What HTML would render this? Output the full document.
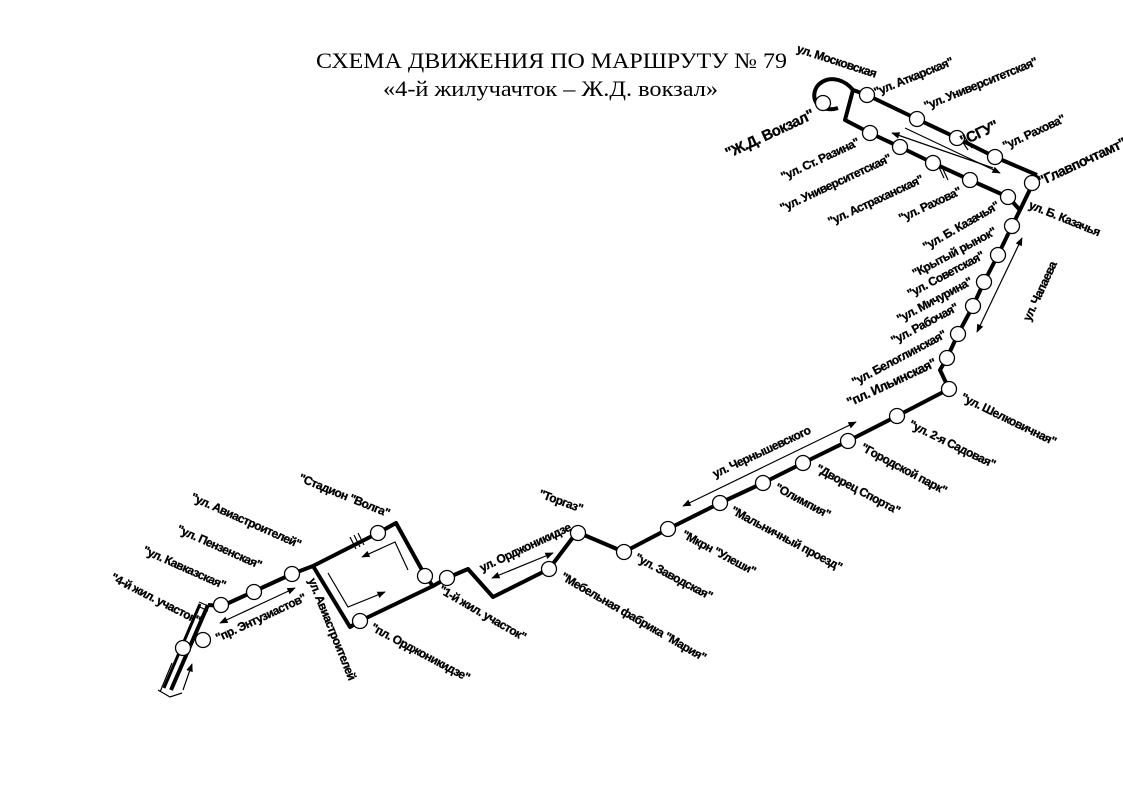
<!DOCTYPE html>
<html><head><meta charset="utf-8"><style>
html,body{margin:0;padding:0;background:#fff;}
svg{display:block;}
.l{font-family:"Liberation Sans",sans-serif;font-weight:bold;font-size:12px;letter-spacing:-0.6px;fill:#000;stroke:#000;stroke-width:0.3;}
.t{font-family:"Liberation Serif",serif;font-size:22px;fill:#000;}
</style></head><body>
<svg width="1123" height="793" viewBox="0 0 1123 793" xmlns="http://www.w3.org/2000/svg">
<defs>
<marker id="a" viewBox="0 0 10 10" refX="9" refY="5" markerWidth="7" markerHeight="7" orient="auto-start-reverse"><path d="M0,1 L10,5 L0,9 z" fill="#000"/></marker>
</defs>
<text class="t" x="316" y="68" textLength="471" lengthAdjust="spacingAndGlyphs">СХЕМА ДВИЖЕНИЯ ПО МАРШРУТУ № 79</text>
<text class="t" x="383" y="96" textLength="335" lengthAdjust="spacingAndGlyphs">«4-й жилучачток – Ж.Д. вокзал»</text>

<g fill="none" stroke="#000" stroke-width="4" stroke-linejoin="round">
<path d="M208,605 L171,690" />
<path d="M200,604 L164,688" stroke-width="3"/>
<path d="M208,605 L222,606 L292,574 L313,566 L378,533 L396,523 L422,570 L425,576"/>
<path d="M313,566 L350,627 L360,621 L433,586 L447,578 L468,569 L493,597 L549,569 L577,532 L624,552 L668,529 L720,503 L763,483 L803,463 L848,441 L897,416 L949,389 L940,370 L947,358 L958,334 L973,306 L984,282 L998,255 L1012,226 L1020,210 L1037,175"/>
<path d="M425,576 L433,586"/>
<path d="M1037,175 L995,157 L957,138 L917,119 L867,95 L853,90 L845,120 L870,133 L900,147 L933,163 L970,180 L1008,197 L1020,210"/>
<path d="M853,90 C845,80 832,76 822,82 C812,88 812,102 820,106 C826,110 832,110 838,108" stroke-width="4"/>
</g>
<g stroke="#000" stroke-width="1.2" fill="none">
<line x1="905" y1="128" x2="1000" y2="173" marker-end="url(#a)"/>
<line x1="993" y1="168" x2="892" y2="133" marker-end="url(#a)"/>
<line x1="1022" y1="238" x2="977" y2="332" marker-start="url(#a)" marker-end="url(#a)"/>
<line x1="683" y1="506" x2="856" y2="422" marker-start="url(#a)" marker-end="url(#a)"/>
<line x1="492" y1="578" x2="553" y2="553" marker-start="url(#a)" marker-end="url(#a)"/>
<line x1="220" y1="623" x2="295" y2="588" marker-start="url(#a)" marker-end="url(#a)"/>
<polyline points="408,570 395,542 362,557" marker-end="url(#a)"/>
<polyline points="328,573 348,607 385,592" marker-end="url(#a)"/>
<polyline points="160,692 172,663"/>
<line x1="183" y1="690" x2="192" y2="664" marker-end="url(#a)"/>
<polyline points="158,690 170,697 182,693"/>
</g>
<g stroke="#000" stroke-width="1.2">
<line x1="350" y1="537" x2="356" y2="549"/><line x1="354" y1="535" x2="360" y2="547"/><line x1="358" y1="533" x2="364" y2="545"/>
<line x1="960" y1="138" x2="968" y2="150"/><line x1="964" y1="136" x2="972" y2="148"/>
<line x1="938" y1="165" x2="944" y2="178"/><line x1="942" y1="167" x2="948" y2="180"/>
<line x1="199" y1="602" x2="208" y2="606"/><line x1="200" y1="607" x2="208" y2="611"/>
</g>
<g fill="#fff" stroke="#000" stroke-width="1.3">
<circle cx="183" cy="648" r="7.5"/><circle cx="203" cy="640" r="7.5"/><circle cx="221" cy="605" r="7.5"/>
<circle cx="254" cy="592" r="7.5"/><circle cx="292" cy="574" r="7.5"/><circle cx="378" cy="533" r="7.5"/>
<circle cx="425" cy="576" r="7.5"/><circle cx="447" cy="578" r="7.5"/><circle cx="360" cy="621" r="7.5"/>
<circle cx="549" cy="569" r="7.5"/><circle cx="578" cy="533" r="7.5"/><circle cx="624" cy="552" r="7.5"/>
<circle cx="668" cy="529" r="7.5"/><circle cx="720" cy="503" r="7.5"/><circle cx="763" cy="483" r="7.5"/>
<circle cx="803" cy="463" r="7.5"/><circle cx="848" cy="441" r="7.5"/><circle cx="897" cy="416" r="7.5"/>
<circle cx="949" cy="389" r="7.5"/><circle cx="947" cy="358" r="7.5"/><circle cx="958" cy="334" r="7.5"/>
<circle cx="973" cy="306" r="7.5"/><circle cx="984" cy="282" r="7.5"/><circle cx="998" cy="255" r="7.5"/>
<circle cx="1012" cy="226" r="7.5"/><circle cx="1008" cy="197" r="7.5"/><circle cx="1032" cy="183" r="7.5"/>
<circle cx="995" cy="157" r="7.5"/><circle cx="957" cy="138" r="7.5"/><circle cx="917" cy="119" r="7.5"/>
<circle cx="867" cy="95" r="7.5"/><circle cx="823" cy="103" r="7.5"/><circle cx="870" cy="133" r="7.5"/>
<circle cx="900" cy="147" r="7.5"/><circle cx="933" cy="163" r="7.5"/><circle cx="970" cy="180" r="7.5"/>
</g>
<g class="l">
<text transform="translate(796,52) rotate(18)">ул. Московская</text>
<text transform="translate(876,96) rotate(-22)">"ул. Аткарская"</text>
<text transform="translate(926,110) rotate(-22)">"ул. Университетская"</text>
<text transform="translate(963,146) rotate(-25)" style="font-size:15px">"СГУ"</text>
<text transform="translate(1005,150) rotate(-25)">"ул. Рахова"</text>
<text transform="translate(1041,186) rotate(-25)" style="font-size:14px">"Главпочтамт"</text>
<text transform="translate(1028,208) rotate(22)">ул. Б. Казачья</text>
<text transform="translate(815,118) rotate(-25)" text-anchor="end" style="font-size:15px">"Ж.Д. Вокзал"</text>
<text transform="translate(860,145) rotate(-25)" text-anchor="end">"ул. Ст. Разина"</text>
<text transform="translate(892,161) rotate(-25)" text-anchor="end">"ул. Университетская"</text>
<text transform="translate(924,182) rotate(-25)" text-anchor="end">"ул. Астраханская"</text>
<text transform="translate(962,194) rotate(-25)" text-anchor="end">"ул. Рахова"</text>
<text transform="translate(1000,208) rotate(-30)" text-anchor="end">"ул. Б. Казачья"</text>
<text transform="translate(997,234) rotate(-28)" text-anchor="end">"Крытый рынок"</text>
<text transform="translate(985,258) rotate(-28)" text-anchor="end">"ул. Советская"</text>
<text transform="translate(973,284) rotate(-28)" text-anchor="end">"ул. Мичурина"</text>
<text transform="translate(959,310) rotate(-28)" text-anchor="end">"ул. Рабочая"</text>
<text transform="translate(947,337) rotate(-28)" text-anchor="end">"ул. Белоглинская"</text>
<text transform="translate(937,366) rotate(-25)" text-anchor="end" style="font-size:13px">"пл. Ильинская"</text>
<text transform="translate(1030,322) rotate(-65)">ул. Чапаева</text>
<text transform="translate(960,400) rotate(26)">"ул. Шелковичная"</text>
<text transform="translate(908,427) rotate(26)">"ул. 2-я Садовая"</text>
<text transform="translate(860,450) rotate(28)">"Городской парк"</text>
<text transform="translate(815,471) rotate(28)">"Дворец Спорта"</text>
<text transform="translate(774,490) rotate(28)">"Олимпия"</text>
<text transform="translate(730,513) rotate(28)">"Мальничный проезд"</text>
<text transform="translate(681,537) rotate(28)">"Мкрн "Улеши"</text>
<text transform="translate(634,560) rotate(28)">"ул. Заводская"</text>
<text transform="translate(715,478) rotate(-25)">ул. Чернышевского</text>
<text transform="translate(538,497) rotate(20)">"Торгаз"</text>
<text transform="translate(560,579) rotate(30)">"Мебельная фабрика "Мария"</text>
<text transform="translate(482,572) rotate(-25)">ул. Орджоникидзе</text>
<text transform="translate(438,592) rotate(30)">"1-й жил. участок"</text>
<text transform="translate(370,630) rotate(28)">"пл. Орджоникидзе"</text>
<text transform="translate(308,580) rotate(68)">ул. Авиастроителей</text>
<text transform="translate(298,481) rotate(22)">"Стадион "Волга"</text>
<text transform="translate(190,500) rotate(24)">"ул. Авиастроителей"</text>
<text transform="translate(176,532) rotate(24)">"ул. Пензенская"</text>
<text transform="translate(142,553) rotate(24)">"ул. Кавказская"</text>
<text transform="translate(110,580) rotate(27)">"4-й жил. участок"</text>
<text transform="translate(218,642) rotate(-25)">"пр. Энтузиастов"</text>
</g>
</svg>
</body></html>
